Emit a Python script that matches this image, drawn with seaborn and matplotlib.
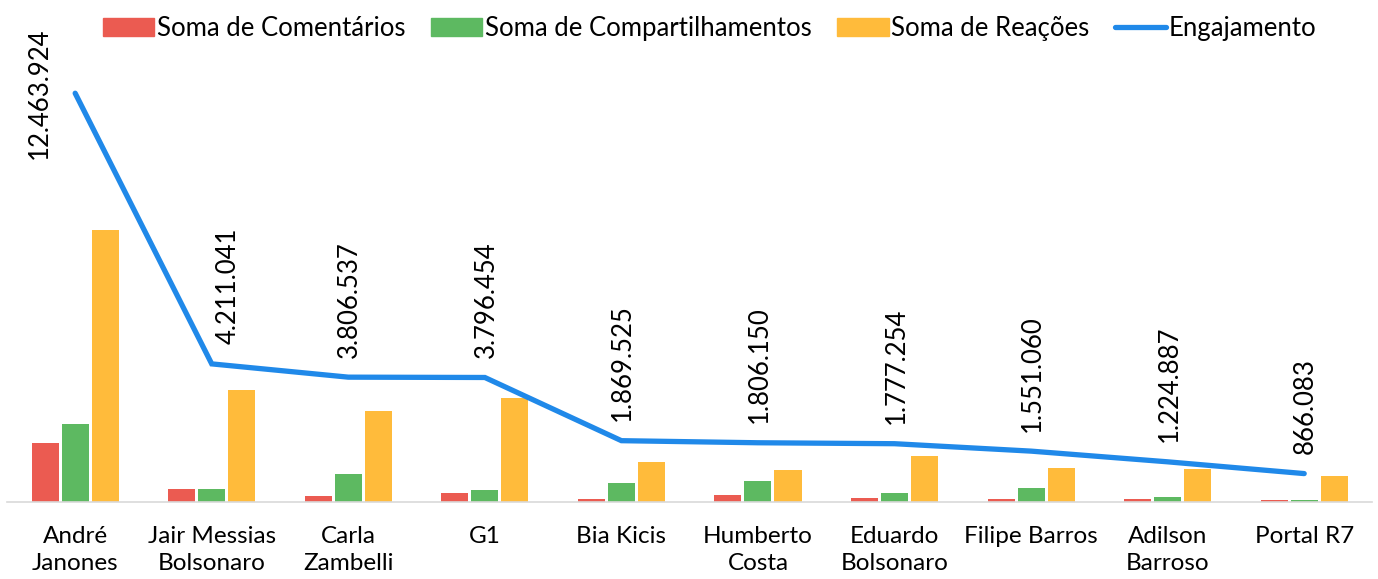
import numpy as np
import pandas as pd
import matplotlib
matplotlib.use("Agg")
import matplotlib.pyplot as plt
import seaborn as sns

# dados
perfis = ["André\nJanones", "Jair Messias\nBolsonaro", "Carla\nZambelli", "G1", "Bia Kicis",
          "Humberto\nCosta", "Eduardo\nBolsonaro", "Filipe Barros", "Adilson\nBarroso", "Portal R7"]
comentarios = [1800000, 400000, 180000, 270000, 80000, 200000, 110000, 90000, 80000, 50000]
compartilhamentos = [2380000, 400000, 850000, 370000, 580000, 640000, 280000, 430000, 140000, 50000]
reacoes = [8280000, 3410000, 2780000, 3160000, 1220000, 970000, 1400000, 1040000, 1010000, 780000]
engajamento = [12463924, 4211041, 3806537, 3796454, 1869525, 1806150, 1777254, 1551060, 1224887, 866083]
series = ["Soma de Comentários", "Soma de Compartilhamentos", "Soma de Reações"]
cores = ["#EB5B51", "#5DB961", "#FFBB3B"]
cor_linha = "#2089E9"

sns.set_style("white")
plt.rcParams['font.family'] = ['Lato', 'DejaVu Sans']
plt.rcParams['text.color'] = 'black'
plt.rcParams['xtick.color'] = 'black'

df = pd.DataFrame({
    "perfil": perfis * 3,
    "serie": [series[0]] * 10 + [series[1]] * 10 + [series[2]] * 10,
    "valor": comentarios + compartilhamentos + reacoes,
})

fig = plt.figure(figsize=(13.78, 5.79), dpi=100)
ax = fig.add_axes([0.005, 0.133, 0.991, 0.793])

sns.barplot(data=df, x="perfil", y="valor", hue="serie", palette=cores, saturation=1,
            width=0.66, gap=0.1, linewidth=0, ax=ax, legend=False)
xs = np.arange(len(perfis))
ax.plot(xs, engajamento, color=cor_linha, lw=3.8, solid_capstyle="round",
        solid_joinstyle="miter", label="Engajamento", zorder=5)

def fmt(v):
    return f"{v:,}".replace(",", ".")

for i, v in enumerate(engajamento):
    if i == 0:
        ax.annotate(fmt(v), (i, v), xytext=(-26, 0), textcoords="offset points",
                    rotation=90, ha="center", va="center", fontsize=18.5)
    else:
        dx = 12 if i == 1 else 1
        ax.annotate(fmt(v), (i, v), xytext=(dx, 14), textcoords="offset points",
                    rotation=90, ha="center", va="bottom", fontsize=18.5)

ax.set_xlim(-0.5, len(perfis) - 0.5)
ax.set_ylim(0, 14000000)
ax.set_xlabel("")
ax.set_ylabel("")
ax.set_yticks([])
ax.tick_params(axis="x", length=0, pad=17, labelsize=17.5)
for t in ax.get_xticklabels():
    t.set_linespacing(1.4)
for s in ["top", "right", "left"]:
    ax.spines[s].set_visible(False)
ax.spines["bottom"].set_color("#D9D9D9")
ax.spines["bottom"].set_linewidth(1.2)

handles = [plt.Rectangle((0, 0), 1, 1, color=c) for c in cores]
handles.append(plt.Line2D([0], [0], color=cor_linha, lw=3.8))
fig.legend(handles, series + ["Engajamento"], loc="center", bbox_to_anchor=(0.515, 0.95),
           ncol=4, frameon=False, fontsize=18.5, handlelength=2.0, handleheight=0.7,
           handletextpad=0.1, columnspacing=1.0)

fig.savefig("out.png", dpi=100)
